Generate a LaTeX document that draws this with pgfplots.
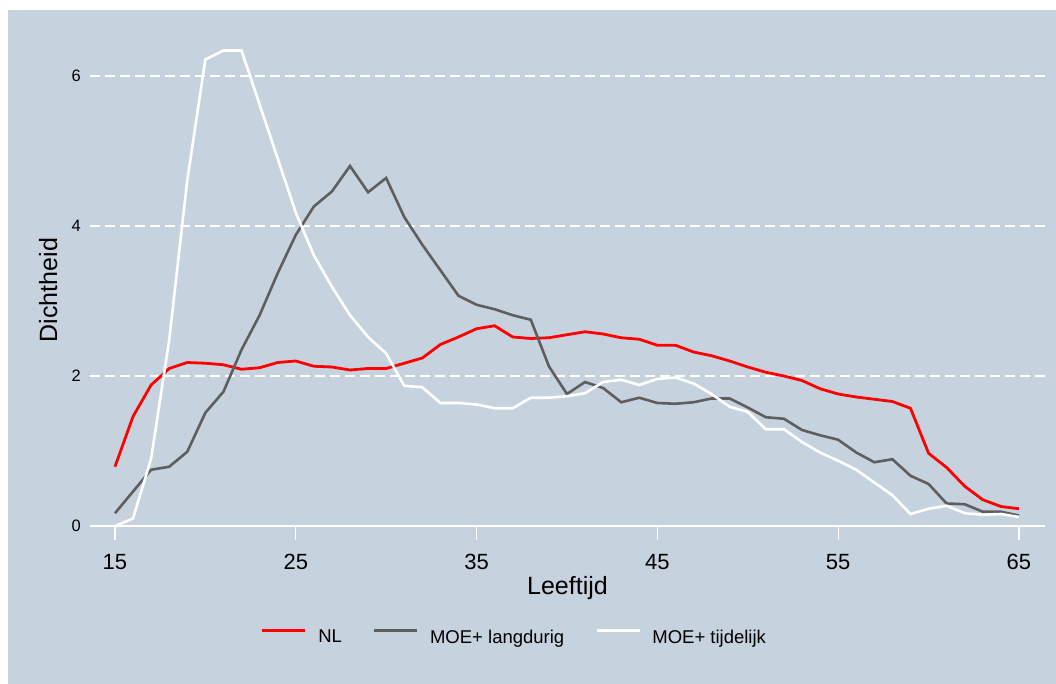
\documentclass[border=0pt]{standalone}
\usepackage{fontspec}
\setmainfont{Liberation Sans}
\usepackage{pgfplots}
\pgfplotsset{compat=1.18}
\usepackage{pgfplotstable}
\definecolor{bgc}{HTML}{C6D3DF}
\definecolor{dgray}{HTML}{5E5E5E}
\definecolor{nlred}{HTML}{FF0000}
\pgfplotstableread{
age nl lang tijd
15 0.79 0.17 0.00
16 1.46 0.46 0.10
17 1.88 0.75 0.90
18 2.10 0.79 2.48
19 2.18 0.99 4.61
20 2.17 1.51 6.22
21 2.15 1.79 6.34
22 2.09 2.35 6.34
23 2.11 2.81 5.62
24 2.18 3.37 4.90
25 2.20 3.88 4.18
26 2.13 4.26 3.61
27 2.12 4.46 3.19
28 2.08 4.80 2.81
29 2.10 4.45 2.52
30 2.10 4.64 2.30
31 2.17 4.12 1.87
32 2.24 3.75 1.85
33 2.42 3.41 1.64
34 2.52 3.07 1.64
35 2.63 2.95 1.62
36 2.67 2.89 1.57
37 2.52 2.81 1.57
38 2.50 2.75 1.71
39 2.51 2.13 1.71
40 2.55 1.76 1.73
41 2.59 1.92 1.77
42 2.56 1.84 1.92
43 2.51 1.65 1.95
44 2.49 1.71 1.88
45 2.41 1.64 1.96
46 2.41 1.63 1.98
47 2.32 1.65 1.90
48 2.27 1.70 1.76
49 2.20 1.70 1.59
50 2.12 1.58 1.52
51 2.05 1.45 1.29
52 2.00 1.43 1.29
53 1.94 1.28 1.12
54 1.83 1.21 0.98
55 1.76 1.15 0.87
56 1.72 0.98 0.75
57 1.69 0.85 0.58
58 1.66 0.89 0.41
59 1.57 0.67 0.16
60 0.97 0.56 0.23
61 0.78 0.30 0.27
62 0.53 0.29 0.17
63 0.35 0.19 0.15
64 0.26 0.19 0.16
65 0.23 0.14 0.12
}\datatable
\begin{document}
\begin{tikzpicture}
\fill[white] (0bp,0bp) rectangle (1056bp,684bp);
\fill[bgc] (8bp,0bp) rectangle (1056bp,674bp);
\begin{axis}[
  at={(90bp,158bp)}, anchor=south west,
  scale only axis, width=955bp, height=495bp,
  xmin=13.62, xmax=66.44, ymin=0, ymax=6.6,
  axis lines*=left,
  x axis line style={white, line width=2bp, -},
  y axis line style={draw=none},
  xtick={15,25,35,45,55,65},
  ytick={0,2,4,6},
  tick align=outside,
  major tick length=14bp,
  xtick style={white, line width=1.3bp},
  ytick style={draw=none},
  ymajorgrids,
  grid style={white, line width=1.8bp, dash pattern=on 10bp off 5bp},
  /pgf/number format/assume math mode=true,
  xticklabel style={font=\fontsize{22bp}{26bp}\selectfont, inner sep=0pt, yshift=-14bp},
  yticklabel style={font=\fontsize{16.5bp}{20bp}\selectfont, inner sep=0pt, xshift=5bp},
  legend columns=3,
  legend image code/.code={\draw[#1] (0bp,6.5bp) -- (43bp,6.5bp);},
  legend style={draw=none, fill=none, inner sep=0pt, outer sep=0pt,
    at={(axis description cs:0.1791,-0.2242)}, anchor=west,
    font=\fontsize{18.5bp}{22bp}\selectfont,
    nodes={inner sep=0pt},
    /tikz/every odd column/.append style={column sep=11.5bp},
    /tikz/every even column/.append style={column sep=31bp}},
  clip=false,
]
\addplot[nlred, line width=2.8bp] table[x=age, y=nl] {\datatable};
\addlegendentry{NL}
\addplot[dgray, line width=2.6bp] table[x=age, y=lang] {\datatable};
\addlegendentry{MOE+ langdurig}
\addplot[white, line width=2.6bp] table[x=age, y=tijd] {\datatable};
\addlegendentry{MOE+ tijdelijk}
\end{axis}
\node[anchor=base, font=\fontsize{25bp}{30bp}\selectfont, inner sep=0pt] at (567.5bp,89bp) {Leeftijd};
\node[anchor=base, rotate=90, font=\fontsize{25bp}{30bp}\selectfont, inner sep=0pt] at (57bp,394bp) {Dichtheid};
\end{tikzpicture}
\end{document}
